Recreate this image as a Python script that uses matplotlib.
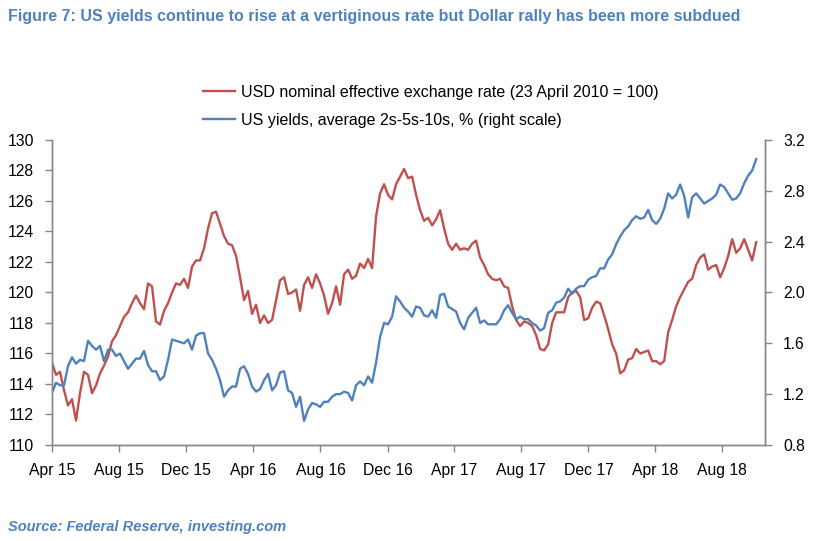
import matplotlib
matplotlib.use("Agg")
import matplotlib.pyplot as plt
import matplotlib.dates as mdates
import pandas as pd
import numpy as np

plt.rcParams['font.family'] = ['Liberation Sans', 'DejaVu Sans']

# USD nominal effective exchange rate (23 April 2010 = 100), evenly spaced samples Apr 2015 - Oct 2018
usd = [115.4, 114.6, 114.8, 113.6, 112.6, 113.0, 111.6, 113.4, 114.8, 114.6, 113.4, 113.9, 114.7, 115.2,
       115.8, 116.8, 117.2, 117.8, 118.4, 118.7, 119.3, 119.8, 119.3, 118.9, 120.6, 120.4, 118.1, 117.9,
       118.8, 119.3, 120.0, 120.6, 120.5, 120.9, 120.3, 121.7, 122.1, 122.1, 122.9, 124.2, 125.2, 125.3,
       124.5, 123.7, 123.2, 123.1, 122.4, 121.0, 119.5, 120.1, 118.6, 119.2, 118.0, 118.5, 118.0, 118.2,
       119.5, 120.8, 121.0, 119.9, 120.0, 120.2, 118.8, 120.5, 121.0, 120.3, 121.2, 120.6, 119.8, 118.6,
       119.3, 120.4, 119.2, 121.2, 121.5, 120.9, 121.1, 121.9, 121.6, 122.2, 121.6, 125.0, 126.5, 127.1,
       126.4, 126.1, 127.1, 127.6, 128.1, 127.5, 127.6, 126.4, 125.4, 124.7, 124.9, 124.4, 124.8, 125.4,
       124.2, 123.2, 122.8, 123.2, 122.8, 122.9, 122.8, 123.2, 123.4, 122.3, 121.8, 121.2, 120.9, 120.8,
       120.9, 120.4, 120.3, 119.1, 118.2, 117.8, 118.1, 118.0, 117.8, 117.2, 116.3, 116.2, 116.6, 118.0,
       118.7, 118.7, 118.7, 119.7, 120.0, 120.1, 119.7, 118.2, 118.3, 119.0, 119.4, 119.3, 118.5, 117.6,
       116.6, 116.0, 114.7, 114.9, 115.6, 115.7, 116.3, 116.0, 116.1, 116.2, 115.5, 115.5, 115.3, 115.5,
       117.4, 118.2, 119.1, 119.7, 120.2, 120.7, 120.9, 121.8, 122.3, 122.5, 121.5, 121.7, 121.8, 121.0,
       121.6, 122.4, 123.5, 122.6, 122.9, 123.5, 122.8, 122.1, 123.3]

# US yields, average 2s-5s-10s, %
yields = [1.21, 1.29, 1.27, 1.27, 1.42, 1.49, 1.44, 1.47, 1.46, 1.62, 1.58, 1.55, 1.58, 1.46,
          1.55, 1.55, 1.50, 1.52, 1.46, 1.40, 1.44, 1.48, 1.48, 1.54, 1.43, 1.38, 1.38, 1.31,
          1.34, 1.47, 1.63, 1.62, 1.61, 1.60, 1.63, 1.55, 1.66, 1.68, 1.68, 1.52, 1.47, 1.40,
          1.31, 1.18, 1.23, 1.26, 1.26, 1.40, 1.42, 1.36, 1.26, 1.22, 1.24, 1.31, 1.36, 1.23,
          1.27, 1.37, 1.38, 1.23, 1.21, 1.10, 1.18, 0.99, 1.08, 1.13, 1.12, 1.10, 1.14, 1.14,
          1.18, 1.20, 1.20, 1.22, 1.21, 1.15, 1.27, 1.30, 1.27, 1.34, 1.29, 1.45, 1.65, 1.76,
          1.75, 1.81, 1.97, 1.93, 1.88, 1.85, 1.81, 1.89, 1.88, 1.82, 1.81, 1.86, 1.80, 1.98,
          1.99, 1.89, 1.87, 1.85, 1.76, 1.71, 1.80, 1.84, 1.88, 1.76, 1.78, 1.75, 1.75, 1.75,
          1.79, 1.86, 1.90, 1.84, 1.79, 1.81, 1.79, 1.79, 1.76, 1.74, 1.70, 1.72, 1.84, 1.86,
          1.92, 1.93, 1.96, 2.03, 1.99, 2.03, 2.05, 2.05, 2.10, 2.12, 2.13, 2.19, 2.19, 2.26,
          2.30, 2.38, 2.44, 2.49, 2.52, 2.57, 2.60, 2.58, 2.59, 2.65, 2.57, 2.54, 2.58, 2.66,
          2.78, 2.74, 2.77, 2.85, 2.76, 2.59, 2.75, 2.78, 2.74, 2.70, 2.72, 2.74, 2.77, 2.85,
          2.83, 2.78, 2.73, 2.74, 2.78, 2.86, 2.92, 2.96, 3.05]

start_date = "2015-04-01"
end_date = "2018-10-02"
usd_dates = pd.date_range(start_date, end_date, periods=len(usd))
yld_dates = pd.date_range(start_date, end_date, periods=len(yields))

tick_dates = pd.date_range("2015-04-01", "2018-08-01", freq="4MS")
left_ticks = [110, 112, 114, 116, 118, 120, 122, 124, 126, 128, 130]
right_ticks = [0.8, 1.2, 1.6, 2.0, 2.4, 2.8, 3.2]

title = "Figure 7: US yields continue to rise at a vertiginous rate but Dollar rally has been more subdued"
label_usd = "USD nominal effective exchange rate (23 April 2010 = 100)"
label_yld = "US yields, average 2s-5s-10s, % (right scale)"
source = "Source: Federal Reserve, investing.com"

RED = "#C0504D"
BLUE = "#4F81BD"
GREY = "#868686"

fig = plt.figure(figsize=(8.13, 5.41), dpi=100)
W, H = 813, 541
ax = fig.add_axes([52 / W, 1 - 445 / H, (765 - 52) / W, (445 - 140) / H])
ax2 = ax.twinx()

l1, = ax.plot(usd_dates, usd, color=RED, lw=1.7, label=label_usd)
l2, = ax2.plot(yld_dates, yields, color=BLUE, lw=1.7, label=label_yld)

ax.set_xlim(pd.Timestamp("2015-04-01"), pd.Timestamp("2018-10-18"))
ax.set_ylim(110, 130)
ax2.set_ylim(0.8, 3.2)
ax.set_yticks(left_ticks)
ax.set_yticklabels([str(t) for t in left_ticks])
ax2.set_yticks(right_ticks)
ax2.set_yticklabels([f"{t:.1f}" for t in right_ticks])
ax.set_xticks(tick_dates)
ax.xaxis.set_major_formatter(mdates.DateFormatter("%b %y"))

for a in (ax, ax2):
    a.spines['top'].set_visible(False)
    for s in ('left', 'right', 'bottom'):
        a.spines[s].set_color(GREY)
        a.spines[s].set_linewidth(1.0)
    a.tick_params(axis='both', colors=GREY, labelcolor='black', labelsize=11.3, length=5, width=1.0, direction='out')
ax.tick_params(axis='x', pad=8)
ax.tick_params(axis='y', pad=8)
ax2.tick_params(axis='y', pad=8)

fig.text(8 / W, 1 - 17 / H, title, color=BLUE, fontsize=11.5, fontweight='bold', va='center', ha='left')
fig.text(8 / W, 1 - 527 / H, source, color=BLUE, fontsize=10.5, fontweight='bold', style='italic', va='center', ha='left')

fig.legend(handles=[l1, l2], loc='upper left', bbox_to_anchor=(203 / W, 1 - 85 / H), frameon=False,
           fontsize=11.5, handlelength=2.0, handletextpad=0.35, labelspacing=0.8, borderpad=0, borderaxespad=0)

fig.savefig("out.png", dpi=100)
